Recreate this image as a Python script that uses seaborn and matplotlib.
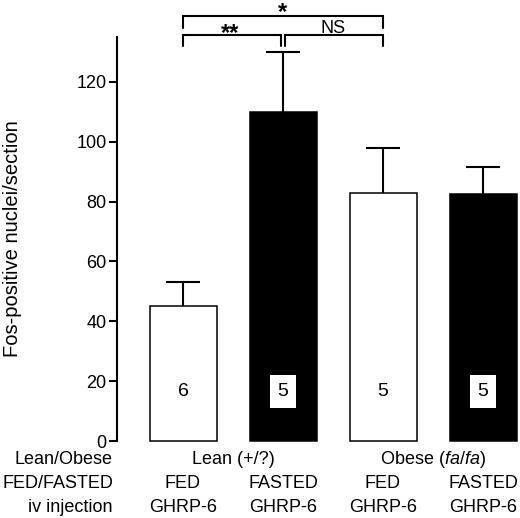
import numpy as np
import seaborn as sns
import matplotlib.pyplot as plt

# bar values
groups = ["Lean FED", "Lean FASTED", "Obese FED", "Obese FASTED"]
means = [45.1, 110.0, 82.8, 82.5]
sem = [8.0, 20.0, 15.0, 9.2]
n_animals = [6, 5, 5, 5]
fills = ["white", "black", "white", "black"]
yticks = [0, 20, 40, 60, 80, 100, 120]

row_names = ["Lean/Obese", "FED/FASTED", "iv injection"]
state_labels = ["FED", "FASTED", "FED", "FASTED"]
injection_labels = ["GHRP-6", "GHRP-6", "GHRP-6", "GHRP-6"]

sns.set_style("ticks")
plt.rcParams["font.family"] = ["Liberation Sans", "DejaVu Sans"]
plt.rcParams["mathtext.fontset"] = "custom"
plt.rcParams["mathtext.rm"] = "Liberation Sans"
plt.rcParams["mathtext.it"] = "Liberation Sans:italic"
for key in ["text.color", "axes.labelcolor", "xtick.color", "ytick.color",
            "axes.edgecolor"]:
    plt.rcParams[key] = "black"

fig = plt.figure(figsize=(5.2, 5.18), dpi=100)
ax = fig.add_axes([117 / 520, 77 / 518, 403 / 520, 404 / 518])

sns.barplot(x=groups, y=means, hue=groups, palette=fills, edgecolor="black",
            linewidth=1.1, width=0.67, legend=False, ax=ax)
for p in ax.patches:
    p.set_clip_on(False)

# only the upper half of the SEM
_, caps, _ = ax.errorbar(range(4), means, yerr=[np.zeros(4), sem], fmt="none",
                         ecolor="black", elinewidth=1.5, capsize=12,
                         capthick=1.5, clip_on=False)
caps[0].set_visible(False)

# number of animals inside the bars
for i, n in enumerate(n_animals):
    if fills[i] == "black":
        ax.text(i, 16.5, str(n), ha="center", va="center", fontsize=14,
                bbox=dict(boxstyle="square,pad=0.4", fc="white", ec="none"))
    else:
        ax.text(i, 16.5, str(n), ha="center", va="center", fontsize=14)

ax.set_xlim(-0.66, 3.37)
ax.set_ylim(0, 135)
ax.set_yticks(yticks)
ax.set_xticks([])
ax.set_xlabel("")
ax.set_ylabel("Fos-positive nuclei/section", fontsize=14.5)
ax.yaxis.set_label_coords(-0.235, 0.5)
for s in ["top", "right", "bottom"]:
    ax.spines[s].set_visible(False)
ax.spines["left"].set_linewidth(1.5)
ax.tick_params(axis="y", direction="out", length=5.5, width=1.5,
               labelsize=13, pad=2)

# significance brackets
lw = 1.5
def bracket(x0, x1, top, drop):
    ax.plot([x0, x0, x1, x1], [top - drop, top, top, top - drop],
            color="black", lw=lw, clip_on=False, solid_joinstyle="miter")

bracket(0.0, 0.975, 135.8, 3.9)
bracket(1.015, 2.0, 135.8, 3.9)
bracket(0.0, 2.0, 141.9, 3.8)
ax.text(0.47, 136.2, "**", ha="center", va="center", fontsize=17,
        fontweight="bold")
ax.text(1.5, 137.7, "NS", ha="center", va="center", fontsize=13)
ax.text(1.0, 143.2, "*", ha="center", va="center", fontsize=17,
        fontweight="bold")

# table of conditions below the bars
tr = ax.get_xaxis_transform()
row_y = [-0.045, -0.105, -0.164]
for name, y in zip(row_names, row_y):
    ax.text(-0.70, y, name, transform=tr, ha="right", va="center", fontsize=13)
ax.text(0.5, row_y[0], "Lean (+/?)", transform=tr, ha="center", va="center",
        fontsize=13)
ax.text(2.5, row_y[0], "Obese ($fa$/$fa$)", transform=tr, ha="center",
        va="center", fontsize=13)
for i in range(4):
    ax.text(i, row_y[1], state_labels[i], transform=tr, ha="center",
            va="center", fontsize=13)
    ax.text(i, row_y[2], injection_labels[i], transform=tr, ha="center",
            va="center", fontsize=13)

fig.savefig("out.png", dpi=100)
